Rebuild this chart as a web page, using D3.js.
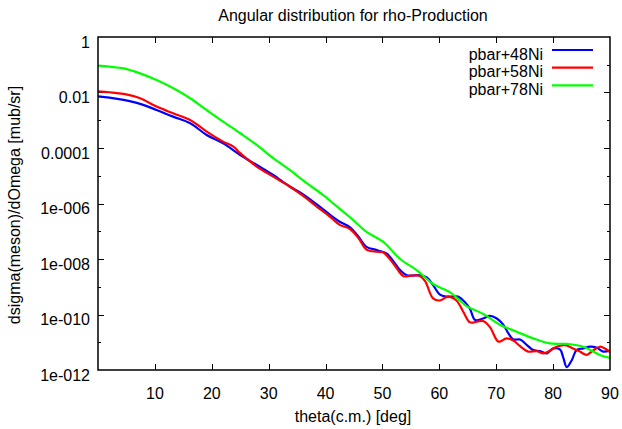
<!DOCTYPE html>
<html lang="en">
<head>
<meta charset="utf-8">
<title>Angular distribution for rho-Production</title>
<script src="https://cdn.jsdelivr.net/npm/d3@7"></script>
<style>
  body { margin: 0; background: #fff; }
  text { font-family: "Liberation Sans", Arial, sans-serif; font-size: 16px; fill: #000; }
</style>
</head>
<body>
<script>
// x ticks (deg) and y ticks (log scale, gnuplot style labels)
var xTickValues = [10, 20, 30, 40, 50, 60, 70, 80, 90];
var yTickValues = [1e-12, 1e-10, 1e-8, 1e-6, 1e-4, 1e-2, 1];
var yTickLabels = ["1e-012", "1e-010", "1e-008", "1e-006", "0.0001", "0.01", "1"];

var seriesNames = ["pbar+48Ni", "pbar+58Ni", "pbar+78Ni"];
var seriesColors = ["#0000ff", "#ff0000", "#00ff00"];

// pbar+48Ni
var theta48 = [0, 2, 4.5, 7.4, 10.3, 13.2, 16.2, 19.1, 22, 25, 27.9, 30.8, 33.7, 36, 38.4, 40.8, 42.5, 44.3,
  45.8, 47.2, 49, 50.7, 52, 53.1, 54.3, 56.6, 57.8, 58.9, 60.1, 61.3, 63.3, 64.5, 65.4, 66.3, 67.7, 68.9,
  70.1, 71.2, 72.2, 73, 74.2, 75.4, 76.5, 77.7, 78.9, 80, 81.2, 81.8, 82.4, 83.3, 84.1, 85.3, 86.5, 87.7, 88.8, 90];
var sigma48 = [7.2e-3, 6.5e-3, 5.4e-3, 3.9e-3, 2.34e-3, 1.35e-3, 7.8e-4, 2.95e-4, 1.48e-4, 5.6e-5, 2.45e-5, 1.07e-5, 4.1e-6, 2.19e-6, 9.5e-7, 3.9e-7, 2.19e-7, 1.38e-7,
  6.3e-8, 2.75e-8, 2.09e-8, 1.58e-8, 7.9e-9, 4.0e-9, 2.6e-9, 2.6e-9, 2.19e-9, 1.15e-9, 5.2e-10, 4.4e-10, 4.4e-10, 2.75e-10, 1.58e-10, 6.3e-11, 7.2e-11, 8.9e-11,
  7.2e-11, 4.4e-11, 2.0e-11, 1.26e-11, 1.26e-11, 7.9e-12, 5.2e-12, 4.8e-12, 4.0e-12, 6.0e-12, 5.5e-12, 2.75e-12, 1.26e-12, 2.29e-12, 5.2e-12, 6.0e-12, 6.9e-12, 6.3e-12, 4.6e-12, 5.0e-12];

// pbar+58Ni
var theta58 = [0, 2, 4.5, 7.4, 10.3, 13.2, 16.2, 19.1, 22, 23.8, 25, 27.9, 30.8, 33.7, 36, 38.4, 40.8, 42.5, 44.3,
  45.8, 47.2, 49, 50.1, 51.9, 53.7, 55, 56.5, 57.5, 58.9, 60.1, 61.5, 63, 64.2, 65.4, 66.6, 67.7, 68.9,
  70.4, 71.8, 73, 74.2, 75.6, 77.1, 78.3, 79.5, 80.6, 82.1, 83.5, 84.7, 85.9, 87.1, 88.2, 89.1, 90];
var sigma58 = [1.10e-2, 1.02e-2, 8.9e-3, 6.2e-3, 3.1e-3, 1.78e-3, 1.02e-3, 3.9e-4, 1.70e-4, 1.12e-4, 6.5e-5, 2.14e-5, 9.3e-6, 4.1e-6, 1.91e-6, 7.9e-7, 3.3e-7, 1.70e-7, 1.20e-7,
  5.6e-8, 2.19e-8, 1.82e-8, 1.74e-8, 6.9e-9, 2.4e-9, 2.5e-9, 2.5e-9, 1.58e-9, 3.8e-10, 3.2e-10, 4.4e-10, 3.2e-10, 1.26e-10, 5.2e-11, 5.5e-11, 5.8e-11, 3.5e-11,
  1.05e-11, 1.38e-11, 1.15e-11, 7.2e-12, 4.6e-12, 4.8e-12, 4.0e-12, 5.0e-12, 6.9e-12, 7.9e-12, 6.0e-12, 4.6e-12, 3.5e-12, 5.2e-12, 6.9e-12, 6.0e-12, 4.4e-12];

// pbar+78Ni
var theta78 = [0, 2, 4.5, 7.4, 10.3, 13.8, 16.2, 19.1, 22, 25, 27.9, 30.8, 33.7, 36.7, 39.6, 41.5, 44.3,
  47.2, 50.1, 53.1, 56, 58.9, 61.9, 64.8, 67.7, 70.7, 73.6, 76.5, 79.4, 82.4, 85.3, 88.2, 90];
var sigma78 = [9.3e-2, 8.5e-2, 7.4e-2, 4.9e-2, 2.8e-2, 1.23e-2, 6.2e-3, 2.34e-3, 8.9e-4, 3.4e-4, 1.29e-4, 4.3e-5, 1.62e-5, 5.4e-6, 2.0e-6, 9.5e-7, 3.2e-7,
  9.5e-8, 4.2e-8, 1.0e-8, 4.0e-9, 1.26e-9, 6.3e-10, 2.0e-10, 1.05e-10, 4.2e-11, 2.4e-11, 1.38e-11, 9.1e-12, 8.7e-12, 6.9e-12, 3.5e-12, 2.75e-12];

var w = 622, h = 429;
// plot frame (note: "top" is a reserved window property, so use other names)
var pLeft = 98, pRight = 610, pTop = 37, pBottom = 370;

var svg = d3.select("body").append("svg")
  .attr("width", w)
  .attr("height", h);

var xScale = d3.scaleLinear().domain([0, 90]).range([pLeft, pRight]);
var yScale = d3.scaleLog().domain([1e-12, 1]).range([pBottom, pTop]);

// ticks on all four sides, like gnuplot
var ticks = svg.append("g").attr("stroke", "#000").attr("stroke-width", 1);
xTickValues.filter(function(d) { return d < 90; }).forEach(function(d) {
  var x = Math.round(xScale(d)) + 0.5;
  ticks.append("line").attr("x1", x).attr("x2", x).attr("y1", pBottom).attr("y2", pBottom - 6);
  ticks.append("line").attr("x1", x).attr("x2", x).attr("y1", pTop).attr("y2", pTop + 6);
});
d3.range(-11, 0).forEach(function(e) {
  var y = Math.round(yScale(Math.pow(10, e))) + 0.5;
  var len = (e % 2 === 0) ? 6 : 3;
  ticks.append("line").attr("x1", pLeft).attr("x2", pLeft + len).attr("y1", y).attr("y2", y);
  ticks.append("line").attr("x1", pRight).attr("x2", pRight - len).attr("y1", y).attr("y2", y);
});

// tick labels
svg.selectAll(".xlab").data(xTickValues).enter().append("text")
  .attr("class", "xlab")
  .attr("x", function(d) { return xScale(d); })
  .attr("y", 393)
  .attr("text-anchor", "middle")
  .attr("dominant-baseline", "central")
  .text(function(d) { return d; });

svg.selectAll(".ylab").data(yTickValues).enter().append("text")
  .attr("class", "ylab")
  .attr("x", pLeft - 8)
  .attr("y", function(d) { return yScale(d) + 5; })
  .attr("text-anchor", "end")
  .attr("dominant-baseline", "central")
  .text(function(d, i) { return yTickLabels[i]; });

// curves
svg.append("clipPath").attr("id", "plotclip")
  .append("rect").attr("x", pLeft).attr("y", pTop).attr("width", pRight - pLeft).attr("height", pBottom - pTop);

var allSeries = [
  { t: theta48, s: sigma48 },
  { t: theta58, s: sigma58 },
  { t: theta78, s: sigma78 }
];

var line = d3.line()
  .x(function(d) { return xScale(d[0]); })
  .y(function(d) { return yScale(d[1]); })
  .curve(d3.curveCatmullRom.alpha(0.5));

allSeries.forEach(function(ser, i) {
  var pts = ser.t.map(function(t, j) { return [t, ser.s[j]]; });
  svg.append("path")
    .attr("d", line(pts))
    .attr("fill", "none")
    .attr("stroke", seriesColors[i])
    .attr("stroke-width", 2.2)
    .attr("clip-path", "url(#plotclip)");
});

// frame
svg.append("rect")
  .attr("x", pLeft).attr("y", pTop)
  .attr("width", pRight - pLeft).attr("height", pBottom - pTop)
  .attr("fill", "none").attr("stroke", "#000").attr("stroke-width", 1.5);

// legend
seriesNames.forEach(function(name, i) {
  var y = 50 + i * 17.7;
  svg.append("text")
    .attr("x", 543).attr("y", y + 4)
    .attr("text-anchor", "end")
    .attr("dominant-baseline", "central")
    .text(name);
  svg.append("line")
    .attr("x1", 552).attr("x2", 593)
    .attr("y1", y).attr("y2", y)
    .attr("stroke", seriesColors[i]).attr("stroke-width", 2.2);
});

// titles
svg.append("text")
  .attr("x", 353).attr("y", 15)
  .attr("text-anchor", "middle")
  .attr("dominant-baseline", "central")
  .text("Angular distribution for rho-Production");

svg.append("text")
  .attr("x", 353).attr("y", 416)
  .attr("text-anchor", "middle")
  .attr("dominant-baseline", "central")
  .text("theta(c.m.) [deg]");

svg.append("text")
  .attr("transform", "translate(14,205) rotate(-90)")
  .attr("text-anchor", "middle")
  .attr("dominant-baseline", "central")
  .text("dsigma(meson)/dOmega [mub/sr]");
</script>
</body>
</html>
